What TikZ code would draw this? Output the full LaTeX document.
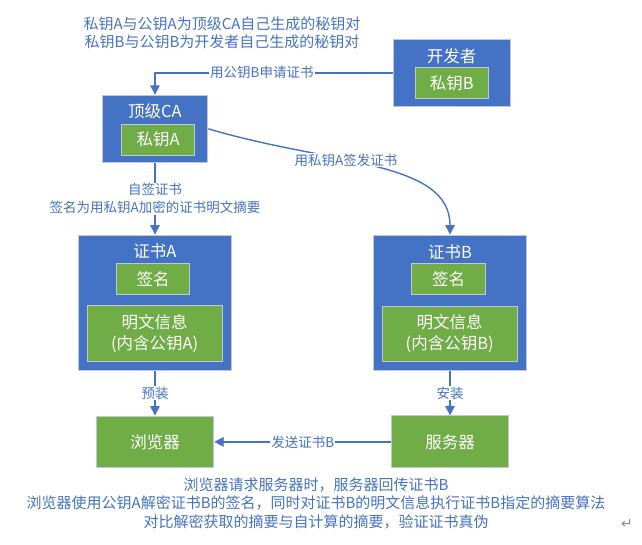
\documentclass[tikz,border=0pt]{standalone}
\usepackage{fontspec}
\setmainfont{Noto Sans CJK SC}
\newfontfamily\symboles{DejaVu Sans}
\usetikzlibrary{arrows.meta}
\definecolor{bleuOffice}{HTML}{4472C4}
\definecolor{vertOffice}{HTML}{70AD47}
\definecolor{bordGris}{HTML}{C3C7CF}
\begin{document}
\begin{tikzpicture}[x=1pt,y=-1pt]
	% Styles
	\tikzstyle{fleche}=[-{Triangle[width=9.5pt,length=9.5pt]},draw=bleuOffice,line width=1.4pt]
	\tikzstyle{boite}=[draw=bordGris,line width=1pt,inner sep=0pt]
	\tikzstyle{bleue}=[boite,fill=bleuOffice]
	\tikzstyle{verte}=[boite,fill=vertOffice,text=white,align=center,font=\fontsize{16.5}{21}\selectfont]
	\tikzstyle{titre}=[text=white,inner sep=0pt,font=\fontsize{16.5}{20}\selectfont]
	\tikzstyle{etiquette}=[fill=white,text=bleuOffice,inner sep=1pt,align=center,font=\fontsize{13.5}{17.7}\selectfont]
	\tikzstyle{commentaire}=[text=bleuOffice,align=center,font=\fontsize{15}{18.5}\selectfont]
	% Dimensions
	\def\ColA{155}
	\def\ColB{450}
	\useasboundingbox (0,0) rectangle (642,544);
	% Notes
	\node[commentaire] (noteHaut) at (222,33) {私钥A与公钥A为顶级CA自己生成的秘钥对\\私钥B与公钥B为开发者自己生成的秘钥对};
	% Noeuds
	\node[bleue,minimum width=117pt,minimum height=66.5pt] (dev) at (451.5,72.8) {};
	\node[titre] (devTitre) at (451.5,56.7) {开发者};
	\node[verte,minimum width=73.7pt,minimum height=31pt] (cleB) at (451.9,82.8) {私钥B};
	%
	\node[bleue,minimum width=105.7pt,minimum height=67pt] (ca) at (\ColA,128.8) {};
	\node[titre] (caTitre) at (\ColA,111) {顶级CA};
	\node[verte,minimum width=73pt,minimum height=30.7pt] (cleA) at (158.2,139.7) {私钥A};
	%
	\node[bleue,minimum width=153pt,minimum height=135.3pt] (certA) at (\ColA,302.7) {};
	\node[titre] (certATitre) at (\ColA,251.7) {证书A};
	\node[verte,minimum width=73.4pt,minimum height=31pt] (signA) at (153,278.8) {签名};
	\node[verte,minimum width=134.7pt,minimum height=55.7pt] (infoA) at (154.7,333.2) {明文信息\\(内含公钥A)};
	%
	\node[bleue,minimum width=152.6pt,minimum height=135.3pt] (certB) at (\ColB,302.7) {};
	\node[titre] (certBTitre) at (\ColB,252) {证书B};
	\node[verte,minimum width=73.6pt,minimum height=31pt] (signB) at (448.5,278.8) {签名};
	\node[verte,minimum width=134.7pt,minimum height=54.7pt] (infoB) at (449.7,333.7) {明文信息\\(内含公钥B)};
	%
	\node[verte,minimum width=117.4pt,minimum height=51.7pt] (navigateur) at (\ColA,441.9) {浏览器};
	\node[verte,minimum width=116.6pt,minimum height=52pt] (serveur) at (\ColB,441.9) {服务器};
	% Arcs
	\draw[fleche] (dev.west) -| (ca.north) node[etiquette,pos=0.275]{用公钥B申请证书};
	\draw[fleche] (ca.east) .. controls (330,165) and (\ColB,160) .. (certB.north) node[etiquette,pos=0.4]{用私钥A签发证书};
	\draw[fleche] (ca.south) -- (certA.north) node[etiquette,midway]{自签证书\\签名为用私钥A加密的证书明文摘要};
	\draw[fleche] (certA.south) -- (navigateur.north) node[etiquette,midway]{预装};
	\draw[fleche] (certB.south) -- (serveur.north) node[etiquette,midway]{安装};
	\draw[fleche] (serveur.west) -- (navigateur.east) node[etiquette,midway]{发送证书B};
	% Notes
	\node[commentaire] (noteBas) at (316,503) {浏览器请求服务器时，服务器回传证书B\\浏览器使用公钥A解密证书B的签名，同时对证书B的明文信息执行证书B指定的摘要算法\\对比解密获取的摘要与自计算的摘要，验证证书真伪};
	\node[text=black!45,font=\symboles\fontsize{14}{16}\selectfont] (finPara) at (627,524) {↵};
\end{tikzpicture}
\end{document}
